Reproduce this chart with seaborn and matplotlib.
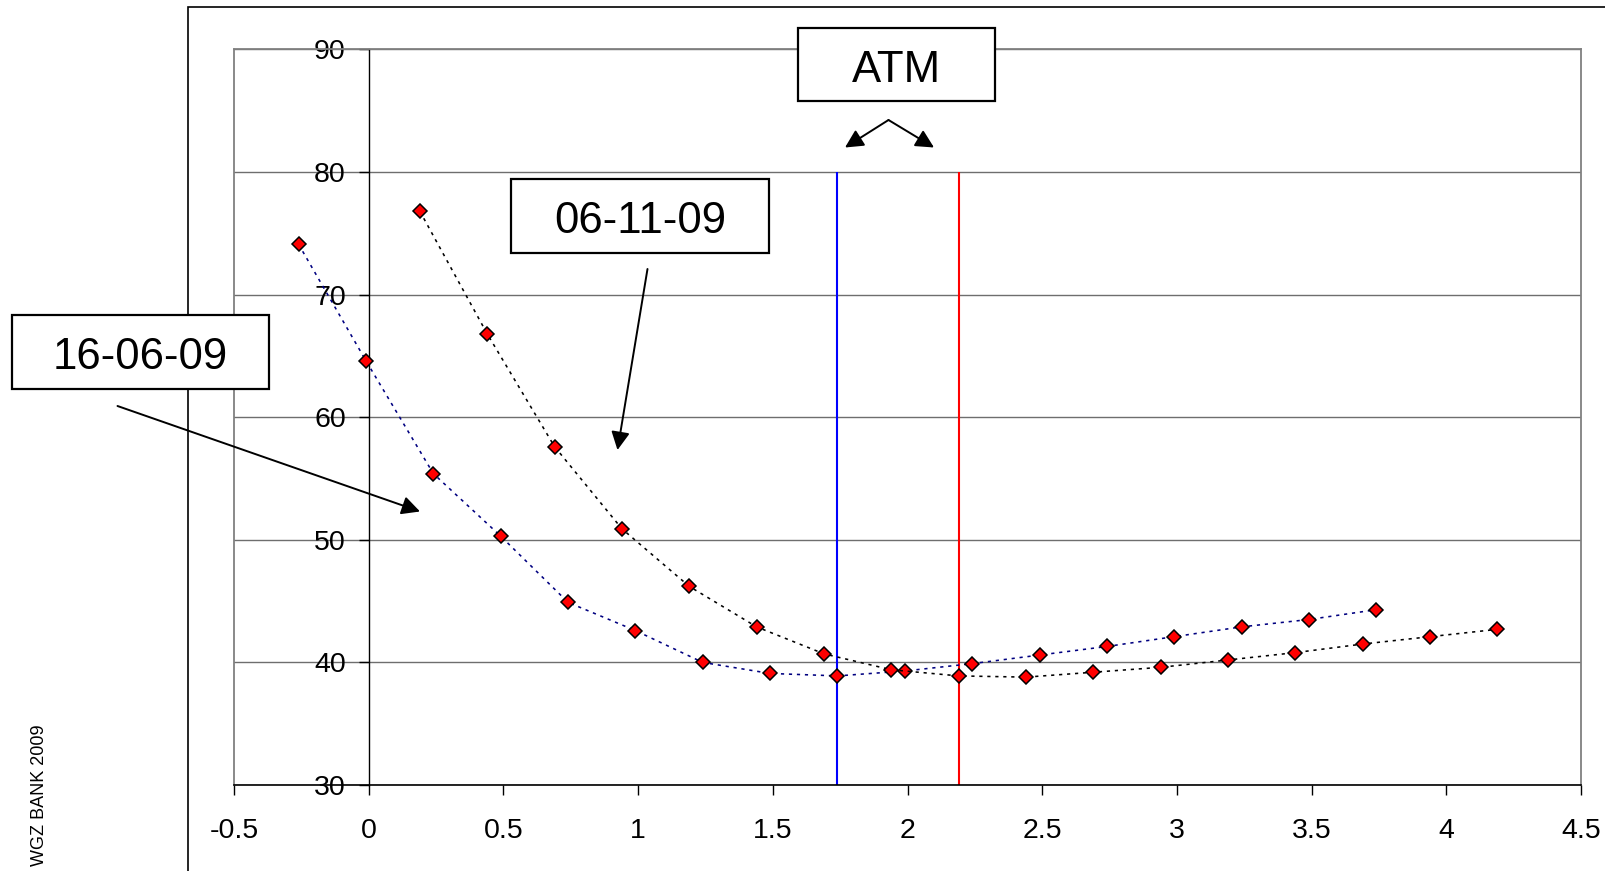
import matplotlib
matplotlib.use("Agg")
import matplotlib.pyplot as plt
from matplotlib.patches import Rectangle, FancyArrowPatch
import pandas as pd
import seaborn as sns

# Volatility smile on two pricing dates (x: strike measure, y: implied vol)
moneyness_jun = [-0.26, -0.01, 0.24, 0.49, 0.74, 0.99, 1.24, 1.49, 1.74,
                 1.99, 2.24, 2.49, 2.74, 2.99, 3.24, 3.49, 3.74]
vol_jun = [74.1, 64.6, 55.4, 50.3, 44.9, 42.6, 40.0, 39.1, 38.9,
           39.3, 39.9, 40.6, 41.3, 42.1, 42.9, 43.5, 44.3]

moneyness_nov = [0.19, 0.44, 0.69, 0.94, 1.19, 1.44, 1.69, 1.94, 2.19,
                 2.44, 2.69, 2.94, 3.19, 3.44, 3.69, 3.94, 4.19]
vol_nov = [76.8, 66.8, 57.6, 50.9, 46.2, 42.9, 40.7, 39.4, 38.9,
           38.8, 39.2, 39.6, 40.2, 40.8, 41.5, 42.1, 42.7]

atm_levels = [1.74, 2.19]
atm_colors = ["#0000FF", "#FF0000"]

x_ticks = [-0.5, 0, 0.5, 1, 1.5, 2, 2.5, 3, 3.5, 4, 4.5]
x_ticklabels = ["-0.5", "0", "0.5", "1", "1.5", "2", "2.5", "3", "3.5", "4", "4.5"]
y_ticks = [30, 40, 50, 60, 70, 80, 90]
y_ticklabels = ["30", "40", "50", "60", "70", "80", "90"]

label_jun = "16-06-09"
label_nov = "06-11-09"
label_atm = "ATM"
credit = "WGZ BANK 2009"

jun = pd.DataFrame({"moneyness": moneyness_jun, "vol": vol_jun})
nov = pd.DataFrame({"moneyness": moneyness_nov, "vol": vol_nov})

sns.set_theme(style="white")
plt.rcParams["font.family"] = ["Liberation Sans", "DejaVu Sans"]

W, H = 1605, 871
fig = plt.figure(figsize=(W / 100, H / 100), dpi=100)


def fx(px):
    return px / W


def fy(py):
    return 1 - py / H


ax = fig.add_axes([fx(234), fy(785), fx(1581) - fx(234), fy(49.5) - fy(785)])
ax.set_xlim(-0.5, 4.5)
ax.set_ylim(30, 90)

# horizontal grid
ax.set_yticks(y_ticks)
ax.set_yticklabels(y_ticklabels)
ax.set_xticks(x_ticks)
ax.set_xticklabels(x_ticklabels)
ax.yaxis.grid(True, color="#6e6e6e", lw=1.0, zorder=0)
ax.xaxis.grid(False)
ax.set_axisbelow(True)

# ATM markers
ax.vlines(atm_levels, 30, 80, colors=atm_colors, lw=1.5, zorder=2)

line_kws = dict(lw=1.15, marker="D", markersize=6.8, markerfacecolor="#FF0000",
                markeredgecolor="black", markeredgewidth=1.1, zorder=3)
sns.lineplot(data=jun, x="moneyness", y="vol", ax=ax, color="#000080",
             linestyle=(0, (2, 3)), sort=False, **line_kws)
sns.lineplot(data=nov, x="moneyness", y="vol", ax=ax, color="black",
             linestyle=(0, (2, 3)), sort=False, **line_kws)

ax.set_xlabel("")
ax.set_ylabel("")

# spines: value axis through x = 0, grey plot frame
ax.spines["left"].set_position(("data", 0))
ax.spines["left"].set_color("black")
ax.spines["left"].set_linewidth(1.0)
ax.spines["bottom"].set_color("black")
ax.spines["bottom"].set_linewidth(1.2)
for side in ("top", "right"):
    ax.spines[side].set_color("#808080")
    ax.spines[side].set_linewidth(1.3)
ax.plot([0, 0], [0, 1], transform=ax.transAxes, color="#808080", lw=1.3,
        clip_on=False, zorder=1)

ax.tick_params(axis="y", direction="out", length=7, width=1.0, pad=9.5,
               labelsize=20.5, colors="black", left=True)
ax.tick_params(axis="x", direction="out", length=7, width=1.0, pad=16.5,
               labelsize=20.5, colors="black", bottom=True)

# outer frame
fig.add_artist(Rectangle((fx(188), -0.2), 2, fy(7) + 0.2, transform=fig.transFigure,
                         fill=False, ec="black", lw=1.2, zorder=0.5))


def label_box(x0, y0, x1, y1, baseline, text):
    fig.add_artist(Rectangle((fx(x0), fy(y1)), fx(x1) - fx(x0), fy(y0) - fy(y1),
                             transform=fig.transFigure, fc="white", ec="black",
                             lw=1.6, zorder=5))
    fig.text(fx((x0 + x1) / 2), fy(baseline), text, ha="center", va="baseline",
             fontsize=31.5, color="black", zorder=6)


def arrow(p0, p1):
    fig.add_artist(FancyArrowPatch((fx(p0[0]), fy(p0[1])), (fx(p1[0]), fy(p1[1])),
                                   transform=fig.transFigure,
                                   arrowstyle="-|>,head_length=0.55,head_width=0.28",
                                   mutation_scale=20, lw=1.4, color="black",
                                   shrinkA=0, shrinkB=0, zorder=6))


label_box(798, 28, 995, 101, 81.7, label_atm)
label_box(511, 179, 769, 253, 233.3, label_nov)
label_box(12, 315, 269, 389, 368.5, label_jun)

arrow((888.5, 120), (845, 147.5))
arrow((888.5, 120), (934, 147.5))
arrow((647.5, 269), (617.5, 450))
arrow((117.5, 406), (420, 511.5))

fig.text(fx(39), fy(795), credit, rotation=90, ha="center", va="center",
         fontsize=13, color="black")

fig.savefig("out.png", dpi=100)
